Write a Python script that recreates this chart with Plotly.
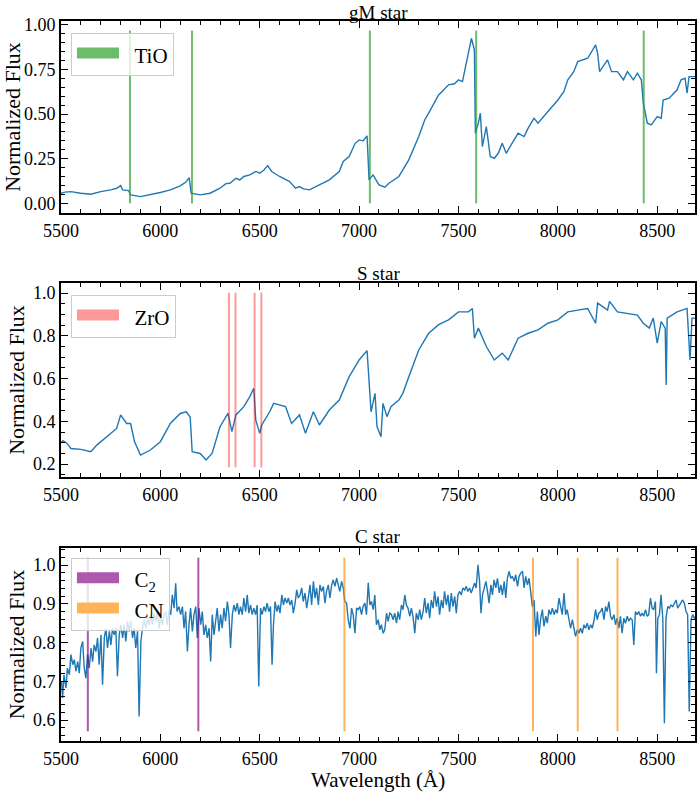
import plotly.graph_objects as go
from plotly.subplots import make_subplots

# gM star spectrum (wavelength in Angstrom, normalized flux)
wl_gm = [5500, 5520, 5550, 5580, 5600, 5650, 5700, 5750, 5780, 5800, 5810, 5840, 5850,
         5900, 5950, 6000, 6050, 6100, 6130, 6145, 6155, 6200, 6250, 6300, 6330, 6350,
         6380, 6400, 6420, 6450, 6480, 6500, 6520, 6540, 6560, 6600, 6650, 6680, 6700,
         6720, 6750, 6800, 6850, 6900, 6920, 6950, 6980, 7000, 7020, 7040, 7050, 7070,
         7090, 7100, 7130, 7150, 7200, 7250, 7300, 7330, 7350, 7400, 7420, 7450, 7480,
         7500, 7520, 7550, 7565, 7580, 7585, 7600, 7610, 7620, 7640, 7660, 7680, 7700,
         7720, 7740, 7770, 7800, 7830, 7850, 7880, 7900, 7950, 8000, 8030, 8050, 8080,
         8100, 8150, 8180, 8190, 8200, 8210, 8250, 8270, 8300, 8330, 8350, 8380, 8400,
         8420, 8430, 8450, 8470, 8500, 8520, 8530, 8560, 8600, 8620, 8640, 8650, 8660,
         8690]
flux_gm = [0.056, 0.062, 0.065, 0.058, 0.056, 0.050, 0.065, 0.075, 0.084, 0.099, 0.075,
           0.071, 0.047, 0.037, 0.047, 0.060, 0.075, 0.097, 0.120, 0.144, 0.056, 0.047,
           0.056, 0.084, 0.110, 0.112, 0.140, 0.131, 0.150, 0.159, 0.178, 0.168, 0.185,
           0.211, 0.178, 0.150, 0.121, 0.084, 0.093, 0.080, 0.075, 0.103, 0.131, 0.178,
           0.234, 0.262, 0.336, 0.355, 0.350, 0.378, 0.131, 0.159, 0.120, 0.103, 0.090,
           0.112, 0.150, 0.243, 0.374, 0.467, 0.505, 0.607, 0.630, 0.664, 0.670, 0.692,
           0.682, 0.841, 0.925, 0.860, 0.393, 0.449, 0.505, 0.318, 0.430, 0.262, 0.252,
           0.280, 0.336, 0.280, 0.336, 0.393, 0.374, 0.420, 0.477, 0.449, 0.514, 0.579,
           0.626, 0.692, 0.738, 0.794, 0.813, 0.869, 0.888, 0.841, 0.738, 0.804, 0.738,
           0.738, 0.692, 0.738, 0.692, 0.729, 0.692, 0.561, 0.449, 0.439, 0.486, 0.477,
           0.579, 0.589, 0.636, 0.692, 0.701, 0.617, 0.710, 0.710]

# S star spectrum
wl_s = [5500, 5510, 5530, 5550, 5600, 5650, 5680, 5700, 5750, 5780, 5800, 5830, 5850,
        5870, 5900, 5950, 6000, 6050, 6100, 6130, 6150, 6160, 6200, 6230, 6260, 6300,
        6340, 6360, 6380, 6420, 6450, 6470, 6480, 6500, 6510, 6550, 6570, 6600, 6630,
        6660, 6700, 6730, 6770, 6800, 6850, 6900, 6950, 6980, 7000, 7040, 7050, 7060,
        7080, 7090, 7110, 7120, 7140, 7160, 7200, 7220, 7250, 7300, 7350, 7400, 7450,
        7500, 7550, 7570, 7580, 7600, 7640, 7680, 7720, 7750, 7800, 7850, 7900, 7950,
        8000, 8050, 8100, 8150, 8190, 8200, 8250, 8260, 8300, 8350, 8400, 8430, 8460,
        8480, 8500, 8520, 8540, 8545, 8550, 8600, 8650, 8665, 8675, 8690]
flux_s = [0.300, 0.310, 0.297, 0.273, 0.269, 0.258, 0.289, 0.305, 0.344, 0.367, 0.430,
          0.390, 0.390, 0.305, 0.242, 0.266, 0.305, 0.390, 0.437, 0.445, 0.420, 0.258,
          0.250, 0.219, 0.250, 0.375, 0.437, 0.352, 0.430, 0.469, 0.516, 0.555, 0.406,
          0.344, 0.383, 0.445, 0.484, 0.477, 0.469, 0.390, 0.430, 0.344, 0.445, 0.383,
          0.453, 0.500, 0.609, 0.656, 0.687, 0.731, 0.594, 0.445, 0.531, 0.375, 0.328,
          0.484, 0.422, 0.469, 0.500, 0.531, 0.609, 0.734, 0.812, 0.852, 0.875, 0.912,
          0.912, 0.928, 0.789, 0.836, 0.750, 0.687, 0.719, 0.687, 0.789, 0.812, 0.828,
          0.859, 0.875, 0.912, 0.920, 0.928, 0.859, 0.953, 0.920, 0.961, 0.912, 0.906,
          0.897, 0.859, 0.836, 0.883, 0.766, 0.867, 0.836, 0.570, 0.883, 0.912, 0.928,
          0.687, 0.883, 0.883]

# C star spectrum
wl_c = [5500, 5503, 5508, 5515, 5525, 5532, 5542, 5550, 5559, 5567, 5575, 5584, 5592,
        5600, 5609, 5617, 5625, 5634, 5642, 5651, 5659, 5667, 5676, 5684, 5692, 5701,
        5709, 5718, 5726, 5734, 5743, 5751, 5759, 5768, 5776, 5784, 5793, 5801, 5810,
        5818, 5826, 5835, 5843, 5851, 5860, 5868, 5876, 5885, 5893, 5902, 5910, 5918,
        5927, 5935, 5943, 5952, 5960, 5968, 5977, 5985, 5994, 6002, 6010, 6019, 6027,
        6035, 6044, 6052, 6060, 6069, 6077, 6084, 6094, 6102, 6111, 6119, 6127, 6136,
        6144, 6152, 6161, 6169, 6178, 6186, 6194, 6203, 6211, 6219, 6228, 6236, 6245,
        6253, 6261, 6270, 6278, 6286, 6295, 6303, 6311, 6320, 6328, 6337, 6345, 6353,
        6362, 6370, 6378, 6387, 6395, 6403, 6412, 6420, 6429, 6437, 6445, 6454, 6462,
        6470, 6479, 6487, 6495, 6504, 6512, 6521, 6529, 6537, 6546, 6554,
        6562, 6569, 6577, 6586, 6594, 6602, 6611, 6619, 6627, 6636, 6644, 6652, 6661,
        6669, 6678, 6686, 6694, 6703, 6711, 6719, 6728, 6736, 6744, 6753, 6761, 6770,
        6778, 6786, 6795, 6803, 6811, 6820, 6828, 6836, 6845, 6853, 6862, 6870, 6878,
        6887, 6895, 6903, 6912, 6920, 6928, 6937, 6945, 6954, 6962, 6970, 6979, 6987,
        6995, 7004, 7012, 7020, 7029, 7037, 7046, 7054, 7062, 7071, 7079, 7087, 7096,
        7104, 7112, 7121, 7129, 7138, 7146, 7154, 7163, 7171, 7179, 7188, 7196, 7204,
        7213, 7221, 7230, 7238, 7246, 7255, 7263, 7271, 7280, 7288, 7297, 7305, 7313,
        7322, 7330, 7338, 7347, 7355, 7363, 7372, 7380, 7389, 7397, 7405, 7414, 7422,
        7430, 7439, 7447, 7455, 7464, 7472, 7481, 7489, 7497, 7506, 7514, 7522, 7531,
        7539, 7547, 7556, 7564, 7573, 7581, 7589, 7598, 7606, 7613, 7621, 7628,
        7638, 7646, 7654, 7663, 7671, 7679, 7688, 7696, 7705, 7713, 7721, 7730, 7738,
        7746, 7755, 7763, 7771, 7780, 7788, 7797, 7805, 7813, 7822, 7830, 7838, 7847,
        7855, 7863, 7872, 7880, 7889, 7897, 7905, 7914, 7922, 7930, 7939, 7947, 7955,
        7964, 7972, 7981, 7989, 7997, 8006, 8014, 8022, 8031, 8039, 8047, 8056, 8064,
        8073, 8081, 8089, 8098, 8106, 8114, 8123, 8131, 8139, 8148, 8156, 8165, 8173,
        8181, 8190, 8198, 8206, 8215, 8223, 8232, 8240, 8248, 8257, 8265, 8273, 8282,
        8290, 8298, 8307, 8315, 8323, 8332, 8340, 8349, 8357, 8365, 8374, 8382, 8390,
        8399, 8407, 8416, 8424, 8432, 8441, 8449, 8457, 8466, 8474, 8482, 8491, 8496,
        8503, 8511, 8519, 8528, 8536, 8544, 8553, 8561, 8569, 8578, 8586, 8595, 8603,
        8611, 8620, 8628, 8636, 8645, 8653, 8661, 8670, 8678, 8687, 8695]
flux_c = [0.690, 0.700, 0.657, 0.717, 0.683, 0.734, 0.717, 0.769, 0.743, 0.756, 0.726,
          0.751, 0.721, 0.786, 0.803, 0.734, 0.708, 0.769, 0.734, 0.786, 0.751, 0.794,
          0.777, 0.812, 0.743, 0.820, 0.691, 0.812, 0.837, 0.786, 0.829, 0.794, 0.837,
          0.820, 0.837, 0.713, 0.820, 0.846, 0.812, 0.846, 0.803, 0.855, 0.829, 0.855,
          0.812, 0.837, 0.786, 0.829, 0.609, 0.803, 0.837, 0.859, 0.837, 0.863, 0.846,
          0.872, 0.846, 0.876, 0.855, 0.880, 0.837, 0.872, 0.846, 0.872, 0.880, 0.846,
          0.885, 0.872, 0.923, 0.889, 0.953, 0.880, 0.893, 0.872, 0.893, 0.837, 0.880,
          0.777, 0.846, 0.889, 0.829, 0.872, 0.893, 0.812, 0.889, 0.846, 0.880, 0.820,
          0.846, 0.812, 0.837, 0.751, 0.872, 0.820, 0.855, 0.889, 0.829, 0.872, 0.837,
          0.889, 0.855, 0.906, 0.872, 0.786, 0.872, 0.897, 0.880, 0.902, 0.872, 0.893,
          0.872, 0.915, 0.880, 0.923, 0.876, 0.897, 0.872, 0.889, 0.872, 0.897, 0.687,
          0.889, 0.872, 0.893, 0.880, 0.902, 0.880, 0.893,
          0.743, 0.846, 0.906, 0.880, 0.897, 0.876, 0.923, 0.897, 0.915, 0.902, 0.915,
          0.897, 0.910, 0.876, 0.902, 0.936, 0.915, 0.923, 0.941, 0.906, 0.928, 0.889,
          0.915, 0.949, 0.897, 0.958, 0.915, 0.941, 0.897, 0.949, 0.932, 0.945, 0.902,
          0.932, 0.949, 0.915, 0.949, 0.962, 0.945, 0.966, 0.949, 0.932, 0.958, 0.941,
          0.906, 0.902, 0.859, 0.837, 0.889, 0.872, 0.824, 0.889, 0.885, 0.893, 0.872,
          0.893, 0.902, 0.872, 0.954, 0.897, 0.906, 0.885, 0.923, 0.846, 0.859, 0.833,
          0.846, 0.824, 0.833, 0.876, 0.855, 0.876, 0.872, 0.859, 0.876, 0.850, 0.880,
          0.859, 0.897, 0.885, 0.923, 0.897, 0.889, 0.868, 0.889, 0.868, 0.824, 0.876,
          0.859, 0.885, 0.859, 0.880, 0.915, 0.876, 0.902, 0.863, 0.910, 0.889, 0.932,
          0.893, 0.919, 0.872, 0.910, 0.889, 0.932, 0.897, 0.923, 0.880, 0.928, 0.893,
          0.919, 0.876, 0.923, 0.932, 0.923, 0.941, 0.936, 0.945, 0.932, 0.941, 0.928,
          0.941, 0.954, 0.941, 1.001, 0.958, 0.876, 0.923, 0.941,
          0.958, 0.932, 0.902, 0.949, 0.923, 0.962, 0.941, 0.966, 0.928, 0.949, 0.923,
          0.958, 0.915, 0.966, 0.984, 0.966, 0.971, 0.958, 0.975, 0.945, 0.971, 0.979,
          0.984, 0.941, 0.971, 0.949, 0.966, 0.932, 0.893, 0.910, 0.816, 0.880, 0.820,
          0.863, 0.885, 0.842, 0.868, 0.850, 0.885, 0.872, 0.889, 0.872, 0.885, 0.876,
          0.915, 0.893, 0.872, 0.928, 0.872, 0.885, 0.863, 0.837, 0.859, 0.833, 0.816,
          0.833, 0.824, 0.837, 0.824, 0.846, 0.837, 0.850, 0.833, 0.846, 0.837, 0.855,
          0.885, 0.859, 0.876, 0.880, 0.889, 0.859, 0.893, 0.880, 0.906, 0.868, 0.859,
          0.872, 0.846, 0.863, 0.837, 0.868, 0.824, 0.863, 0.850, 0.868, 0.855, 0.863,
          0.859, 0.794, 0.880, 0.872, 0.880, 0.868, 0.876, 0.868, 0.885, 0.868, 0.872,
          0.915, 0.889, 0.885, 0.906, 0.721, 0.863, 0.872, 0.923, 0.863, 0.592, 0.863,
          0.893, 0.889, 0.897, 0.893, 0.902, 0.910, 0.889, 0.897, 0.906, 0.910, 0.902,
          0.880, 0.872, 0.622, 0.859, 0.872, 0.863, 0.868]

# molecular band heads (Angstrom)
tio_lines = [5847, 6159, 7054, 7589, 8432]
zro_lines = [6345, 6378, 6474, 6508]
c2_lines = [5635, 6191]
cn_lines = [6926, 7875, 8100, 8300]

FONT = "Liberation Serif"
BLUE = "#1f77b4"
# (line colour with alpha, opaque equivalent for the legend patch)
TIO_C = ("rgba(44,160,44,0.7)", "#6bbc6b")
ZRO_C = ("rgba(255,0,0,0.4)", "#ff9999")
C2_C = ("rgba(128,0,128,0.65)", "#ad59ad")
CN_C = ("rgba(255,140,0,0.65)", "#ffb459")
NB = "\u00a0\u00a0"

fig = make_subplots(rows=3, cols=1)

panels = [
    (wl_gm, flux_gm, [("TiO", tio_lines, TIO_C)], "legend"),
    (wl_s, flux_s, [("ZrO", zro_lines, ZRO_C)], "legend2"),
    (wl_c, flux_c, [("C<sub>2</sub>", c2_lines, C2_C), ("CN", cn_lines, CN_C)], "legend3"),
]

for i, (wl, fl, bands, leg) in enumerate(panels, start=1):
    fig.add_trace(go.Scatter(x=wl, y=fl, mode="lines", line=dict(color=BLUE, width=1.4),
                             showlegend=False, hoverinfo="skip"), row=i, col=1)
    for name, lines, (col, solid) in bands:
        for w in lines:
            fig.add_vline(x=w, y0=0.05, y1=0.95, line=dict(color=col, width=2),
                          row=i, col=1)
        # legend-only patch
        fig.add_trace(go.Scatter(x=[None], y=[None], mode="lines", name=NB + name,
                                 fill="toself", fillcolor=solid,
                                 line=dict(color=solid, width=10), legend=leg),
                      row=i, col=1)

domains = [[0.7333, 1.0], [0.3667, 0.6361], [0.0, 0.268]]
yranges = [[-0.055, 1.022], [0.14, 1.047], [0.546, 1.044]]
ydticks = [0.25, 0.2, 0.1]
yminor = [0.05, 0.05, 0.02]
yfmt = [".2f", ".1f", ".1f"]
titles = ["gM star", "S star", "C star"]
title_y = [1.0125, 0.650, 0.2847]

axis_common = dict(showline=True, linewidth=2, linecolor="black", mirror="allticks",
                   ticks="inside", ticklen=7, tickwidth=1.3, tickcolor="black",
                   showgrid=False, zeroline=False,
                   tickfont=dict(family=FONT, size=18, color="black"))

for i in range(3):
    fig.update_xaxes(range=[5500, 8690], dtick=500, tick0=5500,
                     minor=dict(ticks="inside", ticklen=4, dtick=100, tick0=5500,
                                tickcolor="black", tickwidth=1, showgrid=False),
                     row=i + 1, col=1, **axis_common)
    fig.update_yaxes(range=yranges[i], dtick=ydticks[i], tick0=0, tickformat=yfmt[i],
                     domain=domains[i],
                     minor=dict(ticks="inside", ticklen=4, dtick=yminor[i], tick0=0,
                                tickcolor="black", tickwidth=1, showgrid=False),
                     title=dict(text="Normalized Flux", standoff=2,
                                font=dict(family=FONT, size=22, color="black")),
                     row=i + 1, col=1, **axis_common)
    fig.add_annotation(text=titles[i], xref="paper", yref="paper", x=0.5,
                       y=title_y[i], yanchor="middle", showarrow=False,
                       font=dict(family=FONT, size=19, color="black"))

fig.add_annotation(text="Wavelength (Å)", xref="paper", yref="paper", x=0.5, y=-0.0535,
                   yanchor="middle", showarrow=False,
                   font=dict(family=FONT, size=21, color="black"))

legend_style = dict(xanchor="left", yanchor="top", x=0.0157,
                    bgcolor="rgba(255,255,255,0.8)", bordercolor="#cccccc", borderwidth=1,
                    itemwidth=42, font=dict(family=FONT, size=21, color="black"))

fig.update_layout(
    width=699, height=792,
    margin=dict(l=61, r=2, t=21, b=51),
    plot_bgcolor="white", paper_bgcolor="white",
    font=dict(family=FONT, color="black"),
    legend=dict(y=0.983, **legend_style),
    legend2=dict(y=0.619, **legend_style),
    legend3=dict(y=0.254, **legend_style),
)

# drop the default page margin so the figure sits at the window origin
fig.write_html("out.html", config={"displayModeBar": False},
               post_script="document.body.style.margin='0';")
